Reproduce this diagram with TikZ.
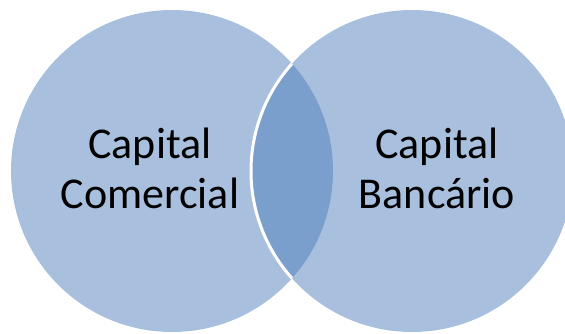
\documentclass[tikz,border=0pt]{standalone}
\usepackage{fontspec}
\setmainfont{Carlito}
\definecolor{setfill}{RGB}{168,192,222}
\definecolor{overlapfill}{RGB}{123,159,204}
\tikzset{
  setlabel/.style={align=center, anchor=base, text=black,
    font=\fontsize{44}{50}\selectfont}
}
\begin{document}
\begin{tikzpicture}[x=1pt, y=1pt]
  \useasboundingbox (0,0) rectangle (565,333);
  \coordinate (cL) at (172,162);
  \coordinate (cR) at (412,162);

  % Two sets
  \fill[setfill] (cL) circle (161);
  \fill[setfill] (cR) circle (161);

  % Overlap, with the white rim of the right set
  \begin{scope}
    \clip (cL) circle (161);
    \fill[overlapfill] (cR) circle (161);
    \draw[white, line width=3pt] (cR) circle (161);
  \end{scope}

  % Labels (base is the second line)
  \node[setlabel] (comercial) at (150,125) {Capital\\Comercial};
  \node[setlabel] (bancario) at (437,125) {Capital\\Bancário};
\end{tikzpicture}
\end{document}
